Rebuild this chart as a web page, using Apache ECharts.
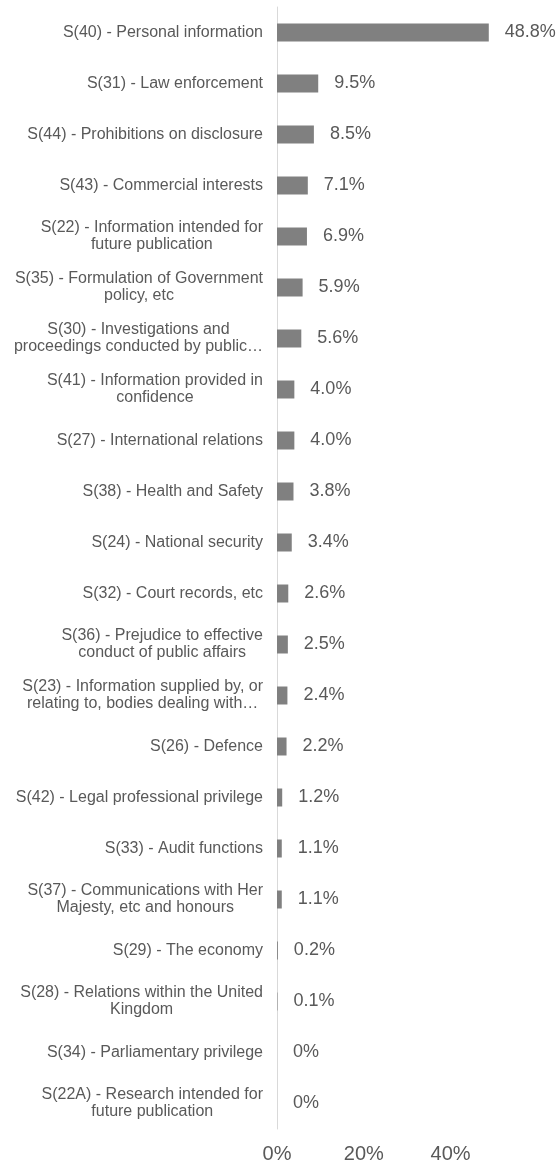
<!DOCTYPE html>
<html>
<head>
<meta charset="utf-8">
<script src="https://cdn.jsdelivr.net/npm/echarts@6/dist/echarts.min.js"></script>
<style>
  html, body { margin: 0; padding: 0; background: #fff; }
  #chart { width: 558px; height: 1164px; }
</style>
</head>
<body>
<div id="chart"></div>
<script>
// 类别（已按图中换行）
const categories = [
  'S(40) - Personal information',
  'S(31) - Law enforcement',
  'S(44) - Prohibitions on disclosure',
  'S(43) - Commercial interests',
  'S(22) - Information intended for\nfuture publication',
  'S(35) - Formulation of Government\npolicy, etc',
  'S(30) - Investigations and\nproceedings conducted by public…',
  'S(41) - Information provided in\nconfidence',
  'S(27) - International relations',
  'S(38) - Health and Safety',
  'S(24) - National security',
  'S(32) - Court records, etc',
  'S(36) - Prejudice to effective\nconduct of public affairs',
  'S(23) - Information supplied by, or\nrelating to, bodies dealing with…',
  'S(26) - Defence',
  'S(42) - Legal professional privilege',
  'S(33) - Audit functions',
  'S(37) - Communications with Her\nMajesty, etc and honours',
  'S(29) - The economy',
  'S(28) - Relations within the United\nKingdom',
  'S(34) - Parliamentary privilege',
  'S(22A) - Research intended for\nfuture publication'
]

const values = [48.8, 9.5, 8.5, 7.1, 6.9, 5.9, 5.6, 4.0, 4.0, 3.8, 3.4, 2.6, 2.5, 2.4, 2.2, 1.2, 1.1, 1.1, 0.2, 0.1, 0, 0]

const textColor = '#595959'
const font = 'Liberation Sans, Arial, sans-serif'

const chart = echarts.init(document.getElementById('chart'))

const option = {
  animation: false,
  grid: { left: 277, right: 64, top: 7, bottom: 32, containLabel: false },
  xAxis: {
    type: 'value',
    min: 0,
    max: 50,
    interval: 20,
    axisLine: { show: false },
    axisTick: { show: false },
    splitLine: { show: false },
    axisLabel: {
      color: textColor,
      fontFamily: font,
      fontSize: 20,
      margin: 15,
      showMaxLabel: false,
      formatter: v => v + '%'
    }
  },
  yAxis: {
    type: 'category',
    inverse: true,
    data: categories,
    axisLine: { show: true, lineStyle: { color: '#d9d9d9', width: 1 } },
    axisTick: { show: false },
    axisLabel: {
      margin: 14,
      interval: 0,
      // 多行标签居中对齐
      formatter: v => v.split('\n').map(l => '{c|' + l + '}').join('\n'),
      rich: {
        c: {
          color: textColor,
          fontFamily: font,
          fontSize: 16,
          lineHeight: 17,
          align: 'center'
        }
      }
    }
  },
  series: [
    {
      type: 'bar',
      data: values,
      barWidth: 18,
      itemStyle: { color: '#808080' },
      label: {
        show: true,
        position: 'right',
        distance: 16,
        color: textColor,
        fontFamily: font,
        fontSize: 18,
        formatter: p => (p.value === 0 ? '0' : p.value.toFixed(1)) + '%'
      }
    }
  ]
}

chart.setOption(option)
</script>
</body>
</html>
